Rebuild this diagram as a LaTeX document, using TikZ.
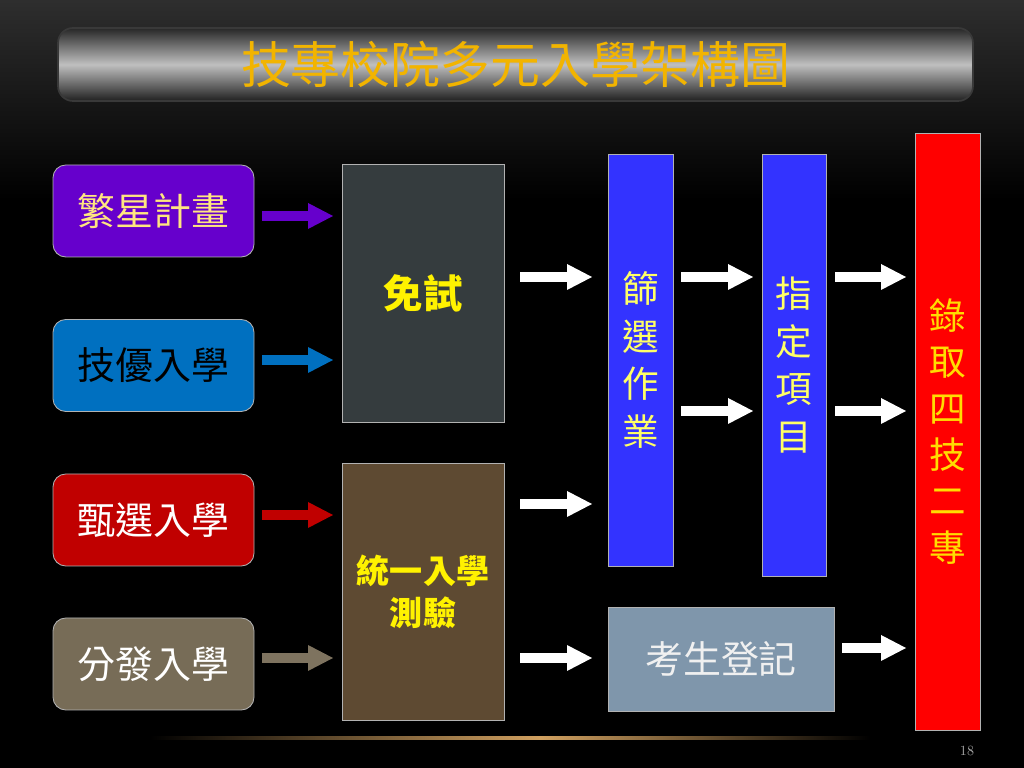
\documentclass[tikz,border=0pt]{standalone}
\usepackage{fontspec}
\newfontfamily\cjk{Noto Sans CJK TC}
\usetikzlibrary{arrows.meta}

\definecolor{bgtop}{HTML}{2E2E2E}
\definecolor{titlegold}{HTML}{F2B400}
\definecolor{cPurple}{HTML}{6600CC}
\definecolor{cCream}{HTML}{FFE680}
\definecolor{cBlue}{HTML}{0070C0}
\definecolor{cRed}{HTML}{C00000}
\definecolor{cTaupe}{HTML}{776C57}
\definecolor{cSlate}{HTML}{353C3E}
\definecolor{cBrown}{HTML}{5E4A32}
\definecolor{cBar}{HTML}{3333FF}
\definecolor{cBarText}{HTML}{FFFF66}
\definecolor{cRedBar}{HTML}{FF0000}
\definecolor{cRedText}{HTML}{FFDD00}
\definecolor{cReg}{HTML}{7F96AB}
\definecolor{cGold}{HTML}{D0A060}

\begin{document}
\begin{tikzpicture}[scale=1.0]
\tikzset{ >={Triangle[length=6.25mm,width=6.5mm,line width=0pt]}, inner sep=0pt, outer sep=0pt,
  box/.style={draw=gray!60, line width=0.6pt, rounded corners=3.2mm, minimum width=5.025cm, minimum height=2.3cm, font=\cjk\fontsize{27}{32}\selectfont},
  block/.style={draw=gray!60, line width=0.6pt, minimum width=4.05cm, minimum height=6.45cm, text=yellow, align=center, font=\cjk\bfseries},
  bar/.style={draw=gray!60, line width=0.6pt, align=center, font=\cjk\fontsize{26}{34}\selectfont},
  fat/.style={->, line width=2.5mm},
}

\useasboundingbox (0,0) rectangle (25.6,19.2);
\fill[black] (0,0) rectangle (25.6,19.2);
\shade[top color=bgtop, bottom color=black] (0,14.2) rectangle (25.6,19.2);

%\draw [lightgray, dashed](0,0) grid (25,19);

% title
\node [draw=gray!45!black, line width=1.2pt, rounded corners=3.75mm, minimum width=22.875cm, minimum height=1.825cm,
       top color=gray!30!black, bottom color=gray!25!black, middle color=gray!50,
       text=titlegold, font=\cjk\fontsize{35.5}{40}\selectfont] (T) at (12.8875,17.5875) {技專校院多元入學架構圖};

% left column
\node [box, fill=cPurple, text=cCream] (FX) at (3.8375,13.925) {繁星計畫};
\node [box, fill=cBlue,   text=black]  (JY) at (3.8375,10.0625) {技優入學};
\node [box, fill=cRed,    text=white]  (ZX) at (3.8375,6.2) {甄選入學};
\node [box, fill=cTaupe,  text=white]  (FF) at (3.8375,2.6) {分發入學};

\node [block, fill=cSlate, font=\cjk\bfseries\fontsize{28}{32}\selectfont] (MS) at (10.575,11.875) {免試};
\node [block, fill=cBrown, minimum height=6.425cm, font=\cjk\bfseries\fontsize{23.5}{30}\selectfont] (TY) at (10.575,4.4125) {統一入學\\測驗};

\node [bar, fill=cBar, text=cBarText, minimum width=1.625cm, minimum height=10.3cm]  (SX) at (16.0125,10.2) {篩\\選\\作\\業};
\node [bar, fill=cBar, text=cBarText, minimum width=1.6cm, minimum height=10.55cm]   (ZD) at (19.85,10.075) {指\\定\\項\\目};
\node [bar, fill=cRedBar, text=cRedText, minimum width=1.625cm, minimum height=14.925cm, font=\cjk\fontsize{26}{33}\selectfont] (LQ) at (23.6875,8.4125) {錄\\取\\四\\技\\二\\專};

\node [draw=gray!60, line width=0.6pt, fill=cReg, text=white!94!black, minimum width=5.65cm, minimum height=2.6cm,
       font=\cjk\fontsize{27}{32}\selectfont] (KS) at (18.025,2.725) {考生登記};

% rows of the arrows
\coordinate (r1) at (0,13.8);
\coordinate (r2) at (0,10.2);
\coordinate (r3) at (0,6.325);
\coordinate (r4) at (0,2.75);
\coordinate (u1) at (0,12.275);
\coordinate (u2) at (0,8.925);
\coordinate (u3) at (0,6.6);
\coordinate (u4) at (0,3.0);

\draw [fat, cPurple, shorten <=2mm, shorten >=2.25mm] (FX.east |- r1) -- (MS.west |- r1);
\draw [fat, cBlue,   shorten <=2mm, shorten >=2.25mm] (JY.east |- r2) -- (MS.west |- r2);
\draw [fat, cRed,    shorten <=2mm, shorten >=2.25mm] (ZX.east |- r3) -- (TY.west |- r3);
\draw [fat, cTaupe!95!white, shorten <=2mm, shorten >=2.25mm] (FF.east |- r4) -- (TY.west |- r4);

\draw [fat, white, shorten <=4mm, shorten >=4mm] (MS.east |- u1) -- (SX.west |- u1);
\draw [fat, white, shorten <=4mm, shorten >=4mm] (TY.east |- u3) -- (SX.west |- u3);
\draw [fat, white, shorten <=4mm, shorten >=4mm] (TY.east |- r4) -- (KS.west |- r4);

\draw [fat, white, shorten <=2mm, shorten >=2.25mm] (SX.east |- u1) -- (ZD.west |- u1);
\draw [fat, white, shorten <=2mm, shorten >=2.25mm] (SX.east |- u2) -- (ZD.west |- u2);
\draw [fat, white, shorten <=2.25mm, shorten >=2.25mm] (ZD.east |- u1) -- (LQ.west |- u1);
\draw [fat, white, shorten <=2.25mm, shorten >=2.25mm] (ZD.east |- u2) -- (LQ.west |- u2);
\draw [fat, white, shorten <=2mm, shorten >=2.25mm] (KS.east |- u4) -- (LQ.west |- u4);

% bottom line
\shade[left color=black, right color=cGold] (3.75,0.71) rectangle (13.5,0.78);
\shade[left color=cGold, right color=black] (13.5,0.71) rectangle (21.75,0.78);

\node [text=gray!70!white, font=\fontsize{10}{12}\selectfont] (PN) at (24.175,0.425) {18};

\end{tikzpicture}
\end{document}
